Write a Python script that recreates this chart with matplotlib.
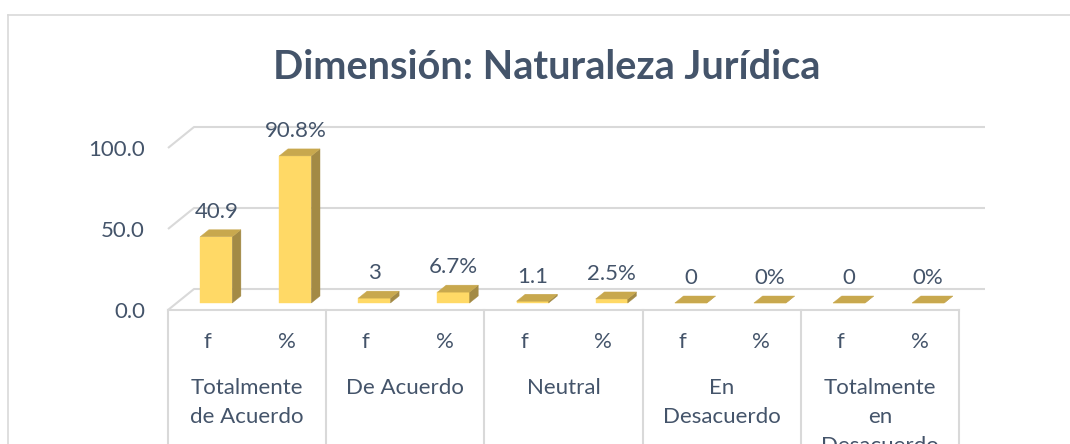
import matplotlib
matplotlib.use('Agg')
import matplotlib.pyplot as plt
from matplotlib.patches import Polygon
from matplotlib.lines import Line2D

# ---------------- data ----------------
title = "Dimensión: Naturaleza Jurídica"
groups = ["Totalmente\nde Acuerdo", "De Acuerdo", "Neutral",
          "En\nDesacuerdo", "Totalmente\nen\nDesacuerdo"]
sub_labels = ["f", "%"]
f_values = [40.9, 3, 1.1, 0, 0]
pct_values = [90.8, 6.7, 2.5, 0, 0]
f_texts = ["40.9", "3", "1.1", "0", "0"]
pct_texts = ["90.8%", "6.7%", "2.5%", "0%", "0%"]
y_ticks = [0, 50, 100]
y_tick_labels = ["0.0", "50.0", "100.0"]

# ---------------- style ----------------
plt.rcParams['font.family'] = ['Lato', 'DejaVu Sans']
TEXT = '#44546a'
GRID = '#d9d9d9'
FRONT = '#ffd966'
TOP = '#c8a84e'
SIDE = '#a38a45'

W, H, DPI = 1070, 444, 100
fig = plt.figure(figsize=(W / DPI, H / DPI), dpi=DPI)

x0_px, x1_px = 168, 959
y0_px = 310
ppu = 1.62          # pixels per value unit
top_val = 125
n_slots = len(groups) * len(sub_labels)
slot_px = (x1_px - x0_px) / n_slots

ax = fig.add_axes([x0_px / W, (H - y0_px) / H, (x1_px - x0_px) / W, top_val * ppu / H])
ax.set_xlim(0, n_slots)
ax.set_ylim(0, top_val)
for s in ax.spines.values():
    s.set_visible(False)
ax.set_xticks([])
ax.set_yticks(y_ticks)
ax.set_yticklabels(y_tick_labels)
ax.tick_params(axis='y', length=0, pad=16.5, labelsize=16, labelcolor=TEXT)
ax.patch.set_alpha(0)

# depth (oblique projection)
DX = 26 / slot_px
DY = 21 / ppu
z0, z1 = 1 / 3, 2 / 3
bw = 0.405

def px2val(py):
    return (y0_px - py) / ppu

# back walls / gridlines
for v in y_ticks:
    ax.plot([0, DX, n_slots + DX], [v, v + DY, v + DY], color=GRID, lw=1.5,
            clip_on=False, zorder=1, solid_capstyle='butt')
# front floor line / table top
ax.plot([0, n_slots], [0, 0], color=GRID, lw=1.5, clip_on=False, zorder=1)
# table vertical dividers
for g in range(len(groups) + 1):
    xg = g * len(sub_labels)
    ax.plot([xg, xg], [0, px2val(460)], color=GRID, lw=1.5, clip_on=False, zorder=1)

# bars
values = []
texts = []
for fv, pv, ft, pt in zip(f_values, pct_values, f_texts, pct_texts):
    values += [fv, pv]
    texts += [ft, pt]

ddx = (z1 - z0) * DX
ddy = (z1 - z0) * DY
for i, (v, t) in enumerate(zip(values, texts)):
    cx = i + 0.5
    xl = cx - bw / 2 + z0 * DX
    xr = xl + bw
    yb = z0 * DY
    yt = v + z0 * DY
    front = [(xl, yb), (xr, yb), (xr, yt), (xl, yt)]
    side = [(xr, yb), (xr + ddx, yb + ddy), (xr + ddx, yt + ddy), (xr, yt)]
    top = [(xl, yt), (xr, yt), (xr + ddx, yt + ddy), (xl + ddx, yt + ddy)]
    for poly, col in ((front, FRONT), (side, SIDE), (top, TOP)):
        ax.add_patch(Polygon(poly, closed=True, facecolor=col, edgecolor=col,
                             lw=0.3, clip_on=False, zorder=3))
    ax.text(cx + z0 * DX, yt + ddy + 11.7 / ppu, t, ha='center', va='baseline',
            fontsize=16, color=TEXT, clip_on=False, zorder=4)

# sub labels (f / %)
for i in range(n_slots):
    ax.text(i + 0.5, px2val(348), sub_labels[i % len(sub_labels)], ha='center',
            va='baseline', fontsize=16, color=TEXT, clip_on=False)

# group labels
for g, name in enumerate(groups):
    gc = g * len(sub_labels) + len(sub_labels) / 2
    for k, line in enumerate(name.split('\n')):
        ax.text(gc, px2val(394.3 + 29 * k), line, ha='center', va='baseline',
                fontsize=16, color=TEXT, clip_on=False)

# title
fig.text(547 / W, 1 - 79 / H, title, ha='center', va='baseline', fontsize=28.5,
         fontweight='bold', color=TEXT)

# chart area border
fig.add_artist(Line2D([8 / W, 1], [1 - 15 / H, 1 - 15 / H], color=GRID, lw=1.2,
                      transform=fig.transFigure))
fig.add_artist(Line2D([8 / W, 8 / W], [0, 1 - 15 / H], color=GRID, lw=1.2,
                      transform=fig.transFigure))

fig.savefig('out.png', dpi=DPI, facecolor='white')
